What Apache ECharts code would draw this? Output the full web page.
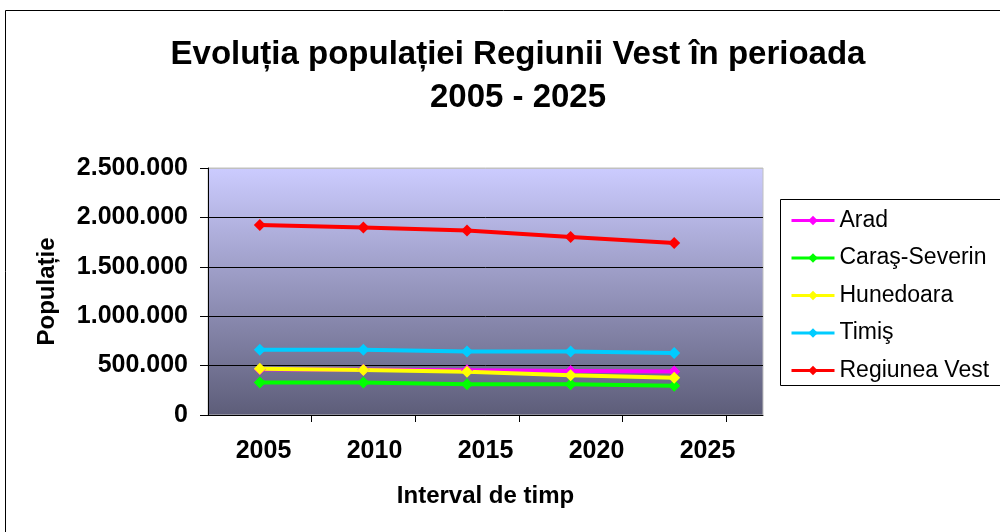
<!DOCTYPE html>
<html>
<head>
<meta charset="utf-8">
<script src="https://cdn.jsdelivr.net/npm/echarts@6/dist/echarts.min.js"></script>
<style>
  html, body { margin: 0; padding: 0; background: #fff; }
  #chart { width: 1000px; height: 532px; }
</style>
</head>
<body>
<div id="chart"></div>
<script>
// date
const years = ['2005', '2010', '2015', '2020', '2025'];
const arad = [462000, 457000, 452000, 446000, 440000];
const carasSeverin = [328000, 328000, 312000, 312000, 295000];
const hunedoara = [467000, 455000, 437000, 403000, 377000];
const timis = [661000, 661000, 643000, 643000, 627000];
const regiuneaVest = [1924000, 1897000, 1867000, 1802000, 1741000];
const yTicks = [0, 500000, 1000000, 1500000, 2000000, 2500000];

const FONT = '"Liberation Sans", Arial, sans-serif';

function fmt(v) {
    return String(v).replace(/\B(?=(\d{3})+(?!\d))/g, '.');
}

function serie(name, data, color) {
    return {
        name: name,
        type: 'line',
        xAxisIndex: 1,
        yAxisIndex: 1,
        data: data,
        symbol: 'diamond',
        symbolSize: 12,
        lineStyle: { color: color, width: 4 },
        itemStyle: { color: color },
        animation: false
    };
}

const chart = echarts.init(document.getElementById('chart'));
chart.setOption({
    backgroundColor: '#fff',
    textStyle: { fontFamily: FONT },
    title: {
        text: 'Evoluția populației Regiunii Vest în perioada\n2005 - 2025',
        left: 513,
        textAlign: 'center',
        top: 28,
        textStyle: { fontFamily: FONT, fontSize: 33, fontWeight: 'bold', color: '#000', lineHeight: 43 }
    },
    legend: {
        orient: 'vertical',
        left: 785,
        top: 204,
        itemWidth: 43,
        itemHeight: 12,
        itemGap: 14.5,
        lineStyle: { width: 3 },
        textStyle: { fontFamily: FONT, fontSize: 23, color: '#000' },
        data: ['Arad', 'Caraş-Severin', 'Hunedoara', 'Timiş', 'Regiunea Vest']
    },
    graphic: [
        { type: 'rect', shape: { x: 5.5, y: 10.5, width: 1100, height: 600 }, style: { fill: 'none', stroke: '#000', lineWidth: 1 }, z: -1 },
        { type: 'rect', shape: { x: 780.5, y: 199.5, width: 400, height: 186 }, style: { fill: 'none', stroke: '#000', lineWidth: 1 } }
    ],
    grid: [
        {
            left: 208, right: 237, top: 168, bottom: 117,
            show: true,
            borderColor: '#c0c0c0',
            borderWidth: 1,
            backgroundColor: new echarts.graphic.LinearGradient(0, 0, 0, 1, [
                { offset: 0, color: '#ccccff' },
                { offset: 1, color: '#5d5d79' }
            ])
        },
        { left: 208, width: 518, top: 168, bottom: 117 }
    ],
    xAxis: [
        {
            type: 'category',
            gridIndex: 0,
            data: years,
            boundaryGap: true,
            axisLine: { lineStyle: { color: '#000', width: 1 } },
            axisTick: { show: false },
            axisLabel: { fontFamily: FONT, fontSize: 25, fontWeight: 'bold', color: '#000', margin: 24 },
            name: 'Interval de timp',
            nameLocation: 'middle',
            nameGap: 69,
            nameTextStyle: { fontFamily: FONT, fontSize: 24, fontWeight: 'bold', color: '#000' }
        },
        {
            type: 'category',
            gridIndex: 1,
            data: years,
            boundaryGap: true,
            axisLine: { show: false },
            axisTick: {
                show: true, length: 7, lineStyle: { color: '#000' },
                interval: function (i) { return i > 0 && i < 5; }
            },
            axisLabel: { show: false }
        }
    ],
    yAxis: [
        {
            type: 'value',
            gridIndex: 0,
            min: 0,
            max: 2500000,
            interval: 500000,
            axisLine: { show: true, lineStyle: { color: '#000' } },
            axisTick: { show: true, length: 8, lineStyle: { color: '#000' } },
            axisLabel: { fontFamily: FONT, fontSize: 25, fontWeight: 'bold', color: '#000', margin: 20, formatter: fmt },
            splitLine: { show: true, lineStyle: { color: ['#000', '#000', '#000', '#000', '#000', '#c0c0c0'], width: 1 } },
            name: 'Populație',
            nameLocation: 'middle',
            nameGap: 149,
            nameTextStyle: { fontFamily: FONT, fontSize: 24, fontWeight: 'bold', color: '#000' }
        },
        {
            type: 'value',
            gridIndex: 1,
            min: yTicks[0],
            max: yTicks[yTicks.length - 1],
            interval: 500000,
            show: false
        }
    ],
    series: [
        serie('Arad', arad, '#ff00ff'),
        serie('Caraş-Severin', carasSeverin, '#00ff00'),
        serie('Hunedoara', hunedoara, '#ffff00'),
        serie('Timiş', timis, '#00ccff'),
        serie('Regiunea Vest', regiuneaVest, '#ff0000')
    ]
});
</script>
</body>
</html>
